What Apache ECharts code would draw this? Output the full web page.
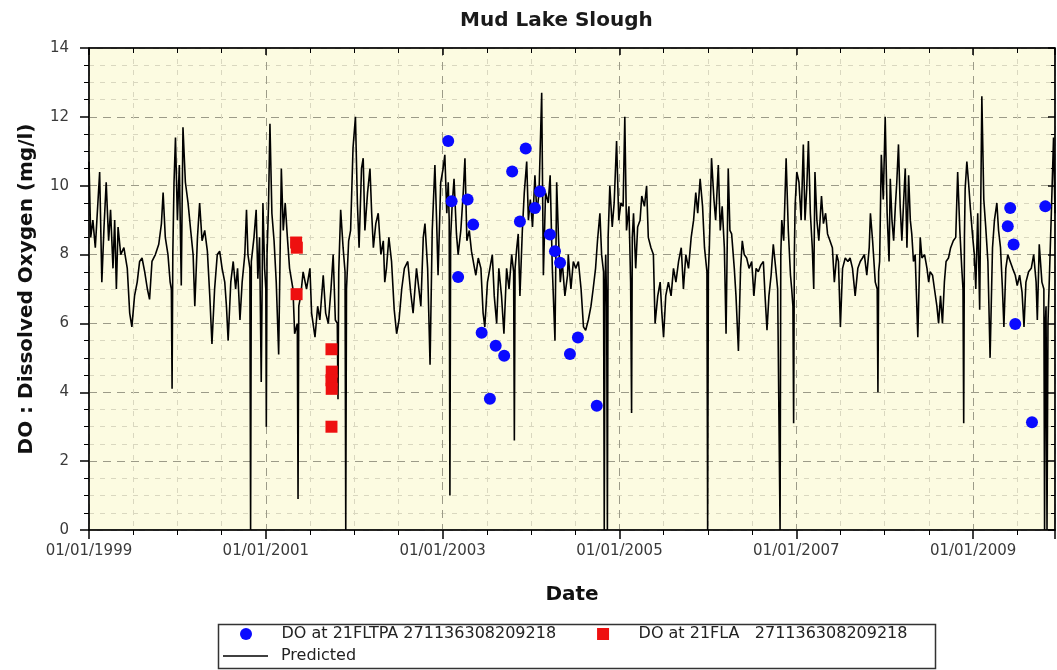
<!DOCTYPE html>
<html>
<head>
<meta charset="utf-8">
<title>Mud Lake Slough</title>
<script src="https://cdn.jsdelivr.net/npm/echarts@6/dist/echarts.min.js"></script>
<style>
    html, body { margin: 0; padding: 0; background: #fff; }
    #chart { width: 1057px; height: 670px; }
</style>
</head>
<body>
<div id="chart"></div>
<script>
// x axis runs from 01/01/1999, one label every 2 years
var firstYear = 1999;
var lastDate = '2009-12-05';
var yearStep = 2;
var yMin = 0, yMax = 14, yStep = 2;

var tpaName = 'DO at 21FLTPA 271136308209218';
var flaName = 'DO at 21FLA   271136308209218';
var predName = 'Predicted';

// measured DO at 21FLTPA
var tpaPoints = [
    ['2003-01-24', 11.3], ['2003-02-07', 9.55], ['2003-03-06', 7.35], ['2003-04-14', 9.6], ['2003-05-07', 8.87],
    ['2003-06-11', 5.73], ['2003-07-15', 3.81], ['2003-08-08', 5.35], ['2003-09-12', 5.06], ['2003-10-15', 10.41],
    ['2003-11-16', 8.96], ['2003-12-10', 11.08], ['2004-01-17', 9.35], ['2004-02-07', 9.83], ['2004-03-19', 8.58],
    ['2004-04-09', 8.1], ['2004-04-30', 7.76], ['2004-06-10', 5.11], ['2004-07-13', 5.59], ['2004-09-29', 3.61],
    ['2009-05-24', 8.82], ['2009-06-03', 9.35], ['2009-06-17', 8.29], ['2009-06-24', 5.98], ['2009-09-01', 3.13],
    ['2009-10-26', 9.4]
];

// measured DO at 21FLA
var flaPoints = [
    ['2001-05-06', 8.35], ['2001-05-09', 8.2], ['2001-05-08', 6.85],
    ['2001-09-29', 5.25], ['2001-09-30', 4.6], ['2001-09-29', 4.35], ['2001-09-30', 4.1], ['2001-09-29', 3.0]
];

// model output
var predicted = [
    ['1999-01-01',10.7],['1999-01-08',8.5],['1999-01-17',9.0],['1999-01-27',8.2],['1999-02-14',10.4],['1999-02-23',7.2],
    ['1999-03-04',8.8],['1999-03-13',10.1],['1999-03-23',8.4],['1999-03-31',9.3],['1999-04-10',7.6],['1999-04-17',9.0],
    ['1999-04-24',7.0],['1999-05-01',8.8],['1999-05-12',8.0],['1999-05-25',8.2],['1999-06-08',7.6],['1999-06-18',6.3],
    ['1999-06-27',5.9],['1999-07-08',6.8],['1999-07-19',7.2],['1999-07-29',7.8],['1999-08-08',7.9],['1999-08-19',7.5],
    ['1999-08-30',7.0],['1999-09-08',6.7],['1999-09-18',7.8],['1999-10-02',8.0],['1999-10-16',8.3],['1999-10-27',8.9],
    ['1999-11-03',9.8],['1999-11-12',8.5],['1999-11-23',8.0],['1999-12-02',7.2],['1999-12-07',7.0],['1999-12-10',4.1],
    ['1999-12-13',8.0],['1999-12-18',10.1],['1999-12-24',11.4],['2000-01-01',9.0],['2000-01-09',10.6],['2000-01-17',7.1],
    ['2000-01-24',11.7],['2000-02-03',10.1],['2000-02-14',9.5],['2000-02-25',8.7],['2000-03-06',8.0],['2000-03-13',6.5],
    ['2000-03-24',8.5],['2000-04-02',9.5],['2000-04-12',8.4],['2000-04-23',8.7],['2000-05-04',8.1],['2000-05-14',6.8],
    ['2000-05-23',5.4],['2000-06-03',7.0],['2000-06-14',8.0],['2000-06-24',8.1],['2000-07-04',7.6],['2000-07-15',7.2],
    ['2000-07-22',6.5],['2000-07-29',5.5],['2000-08-09',7.2],['2000-08-19',7.8],['2000-08-29',7.0],['2000-09-06',7.6],
    ['2000-09-16',6.1],['2000-09-25',7.2],['2000-10-06',8.0],['2000-10-13',9.3],['2000-10-19',8.0],['2000-10-27',7.6],
    ['2000-10-30',0],['2000-11-02',7.8],['2000-11-13',8.5],['2000-11-22',9.3],['2000-11-29',7.3],['2000-12-06',8.5],
    ['2000-12-13',4.3],['2000-12-20',9.5],['2000-12-27',7.6],['2001-01-01',7.0],['2001-01-03',3.0],['2001-01-06',8.0],
    ['2001-01-12',9.4],['2001-01-18',11.8],['2001-01-26',9.2],['2001-02-04',8.4],['2001-02-13',7.2],['2001-02-23',5.1],
    ['2001-03-06',10.5],['2001-03-14',8.7],['2001-03-22',9.5],['2001-03-31',8.5],['2001-04-09',7.6],['2001-04-23',7.0],
    ['2001-04-30',5.7],['2001-05-11',6.0],['2001-05-14',0.9],['2001-05-17',6.5],['2001-05-25',6.8],['2001-06-04',7.5],
    ['2001-06-18',7.0],['2001-07-02',7.6],['2001-07-09',6.3],['2001-07-23',5.6],['2001-08-03',6.5],['2001-08-12',6.1],
    ['2001-08-26',7.4],['2001-09-05',6.3],['2001-09-16',6.0],['2001-09-27',7.0],['2001-10-06',8.0],['2001-10-15',6.1],
    ['2001-10-23',6.0],['2001-10-26',3.8],['2001-10-29',7.5],['2001-11-06',9.3],['2001-11-16',8.2],['2001-11-24',7.5],
    ['2001-11-27',0],['2001-11-30',7.0],['2001-12-09',8.4],['2001-12-17',8.7],['2001-12-27',11.1],['2002-01-06',12.0],
    ['2002-01-14',9.5],['2002-01-21',8.2],['2002-01-31',10.5],['2002-02-07',10.8],['2002-02-14',8.7],['2002-02-25',9.8],
    ['2002-03-07',10.5],['2002-03-14',9.2],['2002-03-21',8.2],['2002-03-31',8.9],['2002-04-10',9.2],['2002-04-21',8.0],
    ['2002-05-01',8.4],['2002-05-07',7.2],['2002-05-14',7.6],['2002-05-24',8.5],['2002-06-04',7.8],['2002-06-15',6.4],
    ['2002-06-25',5.7],['2002-07-05',6.1],['2002-07-16',7.0],['2002-07-27',7.6],['2002-08-10',7.8],['2002-08-22',6.9],
    ['2002-09-01',6.3],['2002-09-15',7.6],['2002-10-03',6.5],['2002-10-13',8.5],['2002-10-20',8.9],['2002-10-31',7.6],
    ['2002-11-10',4.8],['2002-11-19',8.7],['2002-11-30',10.6],['2002-12-07',9.0],['2002-12-13',7.4],['2002-12-24',10.1],
    ['2003-01-03',10.5],['2003-01-10',10.9],['2003-01-18',9.2],['2003-01-24',10.1],['2003-01-28',9.0],['2003-01-31',1.0],
    ['2003-02-03',8.5],['2003-02-09',9.4],['2003-02-17',10.2],['2003-02-27',8.6],['2003-03-06',8.0],['2003-03-17',8.7],
    ['2003-03-27',9.8],['2003-04-03',10.8],['2003-04-11',8.4],['2003-04-21',8.7],['2003-04-30',8.1],['2003-05-10',7.7],
    ['2003-05-18',7.4],['2003-05-28',7.9],['2003-06-08',7.6],['2003-06-17',6.3],['2003-06-24',5.9],['2003-07-05',7.2],
    ['2003-07-15',7.6],['2003-07-25',8.0],['2003-08-02',6.8],['2003-08-12',6.0],['2003-08-21',7.6],['2003-09-01',6.8],
    ['2003-09-11',5.7],['2003-09-22',7.6],['2003-10-02',7.0],['2003-10-13',8.0],['2003-10-21',7.5],['2003-10-24',2.6],
    ['2003-10-27',7.6],['2003-11-03',8.2],['2003-11-09',8.6],['2003-11-16',6.8],['2003-11-26',8.7],['2003-12-04',9.8],
    ['2003-12-14',10.7],['2003-12-21',9.0],['2003-12-29',9.6],['2004-01-07',8.8],['2004-01-17',10.3],['2004-01-25',9.2],
    ['2004-02-03',9.8],['2004-02-14',12.7],['2004-02-21',7.4],['2004-03-01',9.8],['2004-03-12',9.5],['2004-03-20',10.3],
    ['2004-03-29',7.6],['2004-04-09',5.5],['2004-04-16',10.1],['2004-04-23',8.6],['2004-05-01',7.2],['2004-05-09',7.8],
    ['2004-05-20',6.8],['2004-05-31',7.4],['2004-06-03',8.0],['2004-06-14',7.0],['2004-06-24',7.8],['2004-07-04',7.6],
    ['2004-07-15',7.8],['2004-07-26',7.0],['2004-08-05',5.9],['2004-08-14',5.8],['2004-08-25',6.1],['2004-09-05',6.5],
    ['2004-09-14',7.0],['2004-09-24',7.6],['2004-10-02',8.4],['2004-10-12',9.2],['2004-10-19',8.0],['2004-10-27',7.5],
    ['2004-10-30',0],['2004-11-02',7.0],['2004-11-05',8.0],['2004-11-09',6.5],['2004-11-12',0],['2004-11-15',8.5],
    ['2004-11-22',10.0],['2004-12-02',8.8],['2004-12-10',9.5],['2004-12-20',11.3],['2004-12-29',9.0],['2005-01-07',9.5],
    ['2005-01-16',9.4],['2005-01-23',12.0],['2005-01-30',8.7],['2005-02-09',9.4],['2005-02-16',7.2],['2005-02-20',3.4],
    ['2005-02-23',8.5],['2005-02-28',9.2],['2005-03-09',7.6],['2005-03-17',8.8],['2005-03-27',9.0],['2005-04-03',9.7],
    ['2005-04-14',9.4],['2005-04-23',10.0],['2005-04-30',8.5],['2005-05-11',8.2],['2005-05-21',8.0],['2005-05-28',6.0],
    ['2005-06-08',6.8],['2005-06-18',7.2],['2005-06-25',6.3],['2005-07-02',5.6],['2005-07-11',6.8],['2005-07-22',7.2],
    ['2005-08-02',6.8],['2005-08-12',7.6],['2005-08-22',7.2],['2005-09-02',7.8],['2005-09-13',8.2],['2005-09-22',7.0],
    ['2005-10-02',8.0],['2005-10-13',7.6],['2005-10-24',8.5],['2005-11-03',9.0],['2005-11-12',9.8],['2005-11-20',9.2],
    ['2005-11-30',10.2],['2005-12-10',9.4],['2005-12-18',8.2],['2005-12-28',7.5],['2005-12-31',0],['2006-01-03',7.5],
    ['2006-01-07',8.2],['2006-01-16',10.8],['2006-01-26',9.6],['2006-02-02',9.0],['2006-02-13',10.6],['2006-02-21',8.7],
    ['2006-03-01',9.4],['2006-03-10',8.2],['2006-03-17',5.7],['2006-03-26',10.5],['2006-04-02',8.7],['2006-04-09',8.6],
    ['2006-04-20',7.6],['2006-04-27',6.8],['2006-05-07',5.2],['2006-05-16',7.6],['2006-05-23',8.4],['2006-05-31',8.0],
    ['2006-06-10',7.9],['2006-06-20',7.6],['2006-07-01',7.8],['2006-07-10',6.8],['2006-07-19',7.6],['2006-07-28',7.5],
    ['2006-08-08',7.7],['2006-08-18',7.8],['2006-08-25',6.8],['2006-09-02',5.8],['2006-09-10',6.8],['2006-09-19',7.4],
    ['2006-09-28',8.3],['2006-10-08',7.6],['2006-10-16',7.0],['2006-10-23',7.0],['2006-10-26',0],['2006-10-29',8.0],
    ['2006-11-02',9.0],['2006-11-10',8.4],['2006-11-20',10.8],['2006-11-29',8.7],['2006-12-08',7.4],['2006-12-13',7.0],
    ['2006-12-18',6.5],['2006-12-21',3.1],['2006-12-24',8.0],['2006-12-27',9.4],['2007-01-03',10.4],['2007-01-12',10.1],
    ['2007-01-21',9.0],['2007-01-30',11.2],['2007-02-06',9.0],['2007-02-13',9.9],['2007-02-20',11.3],['2007-02-28',9.2],
    ['2007-03-08',8.2],['2007-03-14',7.0],['2007-03-19',10.4],['2007-03-27',9.0],['2007-04-04',8.4],['2007-04-15',9.7],
    ['2007-04-23',8.9],['2007-05-02',9.2],['2007-05-10',8.6],['2007-05-20',8.4],['2007-05-30',8.2],['2007-06-07',7.2],
    ['2007-06-17',8.0],['2007-06-24',7.8],['2007-07-02',5.9],['2007-07-11',7.6],['2007-07-22',7.9],['2007-08-02',7.8],
    ['2007-08-11',7.9],['2007-08-21',7.6],['2007-09-01',6.8],['2007-09-12',7.6],['2007-09-22',7.8],['2007-10-01',7.9],
    ['2007-10-09',8.0],['2007-10-19',7.4],['2007-10-29',8.2],['2007-11-03',9.2],['2007-11-12',8.4],['2007-11-23',7.2],
    ['2007-12-01',7.0],['2007-12-04',4.0],['2007-12-07',7.5],['2007-12-11',7.8],['2007-12-18',10.9],['2007-12-26',9.6],
    ['2008-01-03',12.0],['2008-01-11',9.2],['2008-01-19',7.8],['2008-01-24',10.2],['2008-01-31',9.0],['2008-02-07',8.4],
    ['2008-02-14',9.4],['2008-02-20',10.1],['2008-02-27',11.2],['2008-03-05',9.4],['2008-03-12',8.4],['2008-03-19',9.5],
    ['2008-03-26',10.5],['2008-04-02',8.2],['2008-04-09',10.3],['2008-04-16',9.0],['2008-04-22',8.6],['2008-04-29',7.8],
    ['2008-05-06',8.0],['2008-05-17',5.6],['2008-05-27',8.5],['2008-06-03',7.9],['2008-06-14',8.0],['2008-06-24',7.6],
    ['2008-07-01',7.2],['2008-07-07',7.5],['2008-07-17',7.4],['2008-07-25',7.0],['2008-08-04',6.5],['2008-08-11',6.0],
    ['2008-08-19',6.8],['2008-08-27',6.0],['2008-09-04',7.2],['2008-09-11',7.8],['2008-09-21',7.9],['2008-09-30',8.2],
    ['2008-10-11',8.4],['2008-10-21',8.5],['2008-10-29',10.4],['2008-11-07',8.7],['2008-11-15',7.6],['2008-11-20',7.0],
    ['2008-11-23',3.1],['2008-11-26',8.5],['2008-11-29',9.9],['2008-12-06',10.7],['2008-12-13',10.1],['2008-12-20',9.4],
    ['2008-12-29',8.6],['2009-01-06',8.0],['2009-01-12',7.0],['2009-01-20',9.2],['2009-01-28',6.4],['2009-02-06',12.6],
    ['2009-02-14',9.6],['2009-02-22',8.8],['2009-03-03',7.8],['2009-03-12',5.0],['2009-03-22',8.2],['2009-03-30',9.0],
    ['2009-04-09',9.5],['2009-04-16',8.7],['2009-04-24',8.2],['2009-05-02',7.0],['2009-05-08',5.9],['2009-05-16',7.6],
    ['2009-05-24',8.0],['2009-06-03',7.8],['2009-06-13',7.6],['2009-06-24',7.4],['2009-07-02',7.1],['2009-07-12',7.4],
    ['2009-07-22',6.9],['2009-07-30',5.9],['2009-08-07',7.2],['2009-08-18',7.5],['2009-08-29',7.6],['2009-09-08',8.0],
    ['2009-09-18',7.2],['2009-09-23',6.1],['2009-10-01',8.3],['2009-10-12',7.2],['2009-10-20',7.0],['2009-10-23',0],
    ['2009-10-26',6.0],['2009-10-29',6.5],['2009-11-02',0],['2009-11-06',6.0],['2009-11-19',9.0],['2009-11-29',11.4],
    ['2009-12-05',9.2]
];

// date string -> years since 01/01/firstYear
function toYears(s) {
    var p = s.split('-');
    var y = +p[0];
    var t = Date.UTC(y, +p[1] - 1, +p[2]);
    var y0 = Date.UTC(y, 0, 1), y1 = Date.UTC(y + 1, 0, 1);
    return y - firstYear + (t - y0) / (y1 - y0);
}
function toXY(list) {
    return list.map(function (d) { return [toYears(d[0]), d[1]]; });
}

var font = 'DejaVu Sans';
var xMax = toYears(lastDate);
var majorGrid = { show: true, lineStyle: { color: '#9c9b88', type: [8, 6], width: 1 } };
var minorGrid = { show: true, lineStyle: { color: '#d9d7bf', type: [5, 6], width: 1 } };
var legendText = { fontFamily: font, fontSize: 16, color: '#222', lineHeight: 20, padding: [0, 0, 0, 8] };

var myChart = echarts.init(document.getElementById('chart'));
myChart.setOption({
    animation: false,
    backgroundColor: '#ffffff',
    textStyle: { fontFamily: font },
    title: {
        text: 'Mud Lake Slough',
        left: 455,
        top: 6,
        textStyle: { fontFamily: font, fontSize: 20, fontWeight: 'bold', color: '#1a1a1a' }
    },
    grid: {
        left: 89, right: 2, top: 48, bottom: 140,
        outerBoundsMode: 'none',
        show: true,
        backgroundColor: '#fcfbe1',
        borderColor: '#000',
        borderWidth: 1
    },
    // two legend rows: the measured stations, then the model line
    legend: [{
        left: 240,
        top: 624,
        width: 740,
        padding: 0,
        itemWidth: 45,
        itemHeight: 12,
        itemGap: 41,
        symbolKeepAspect: true,
        data: [
            { name: tpaName, icon: 'circle' },
            { name: flaName, icon: 'path://M0,0H10V10H0Z' }
        ],
        textStyle: legendText
    }, {
        left: 223,
        top: 646,
        width: 740,
        padding: 0,
        itemWidth: 45,
        itemHeight: 12,
        symbolKeepAspect: true,
        data: [{ name: predName, icon: 'path://M0,0H40V1.4H0Z' }],
        textStyle: legendText
    }],
    graphic: [{
        type: 'rect',
        left: 216, top: 622,
        shape: { width: 717, height: 44 },
        style: { fill: 'none', stroke: '#333', lineWidth: 1.5 },
        silent: true
    }],
    xAxis: [{
        type: 'value',
        min: 0, max: xMax, interval: yearStep,
        name: 'Date',
        nameLocation: 'middle',
        nameGap: 55,
        nameTextStyle: { fontFamily: font, fontSize: 20, fontWeight: 'bold', color: '#111' },
        axisLine: { show: true, onZero: false, lineStyle: { color: '#000', width: 1.5 } },
        axisTick: { show: true, length: 9, lineStyle: { color: '#000', width: 1.5 } },
        minorTick: { show: true, splitNumber: 4, length: 5, lineStyle: { color: '#000', width: 1 } },
        axisLabel: {
            fontFamily: font, fontSize: 15, color: '#3a3a3a', margin: 14,
            showMaxLabel: false,
            formatter: function (v) {
                return v % yearStep === 0 ? '01/01/' + (firstYear + v) : '';
            }
        },
        splitLine: majorGrid,
        minorSplitLine: minorGrid
    }, {
        type: 'value',
        position: 'top',
        min: 0, max: xMax, interval: yearStep,
        axisLine: { show: true, onZero: false, lineStyle: { color: '#000', width: 1.5 } },
        axisTick: { show: true, inside: true, length: 7, lineStyle: { color: '#000', width: 1.5 } },
        minorTick: { show: true, splitNumber: 4, length: 5, lineStyle: { color: '#000', width: 1 } },
        axisLabel: { show: false },
        splitLine: { show: false }
    }],
    yAxis: [{
        type: 'value',
        min: yMin, max: yMax, interval: yStep,
        name: 'DO : Dissolved Oxygen (mg/l)',
        nameLocation: 'middle',
        nameGap: 52,
        nameTextStyle: { fontFamily: font, fontSize: 20, fontWeight: 'bold', color: '#111' },
        axisLine: { show: true, onZero: false, lineStyle: { color: '#000', width: 1.5 } },
        axisTick: { show: true, length: 9, lineStyle: { color: '#000', width: 1.5 } },
        minorTick: { show: true, splitNumber: 4, length: 5, lineStyle: { color: '#000', width: 1 } },
        axisLabel: { fontFamily: font, fontSize: 15, color: '#3a3a3a', margin: 20 },
        splitLine: majorGrid,
        minorSplitLine: minorGrid
    }, {
        type: 'value',
        position: 'right',
        min: yMin, max: yMax, interval: yStep,
        axisLine: { show: true, onZero: false, lineStyle: { color: '#000', width: 1.5 } },
        axisTick: { show: true, inside: true, length: 7, lineStyle: { color: '#000', width: 1.5 } },
        minorTick: { show: true, splitNumber: 4, length: 4, lineStyle: { color: '#000', width: 1 } },
        axisLabel: { show: false },
        splitLine: { show: false }
    }],
    series: [{
        name: predName,
        type: 'line',
        data: toXY(predicted),
        showSymbol: false,
        symbol: 'none',
        lineStyle: { color: '#000', width: 1.6 },
        itemStyle: { color: '#000' },
        z: 2
    }, {
        name: tpaName,
        type: 'scatter',
        data: toXY(tpaPoints),
        symbol: 'circle',
        symbolSize: 12,
        itemStyle: { color: '#0a0aff', opacity: 1 },
        z: 3
    }, {
        name: flaName,
        type: 'scatter',
        data: toXY(flaPoints),
        symbol: 'rect',
        symbolSize: 12,
        itemStyle: { color: '#ee1010', opacity: 1 },
        z: 3
    }]
});
</script>
</body>
</html>
